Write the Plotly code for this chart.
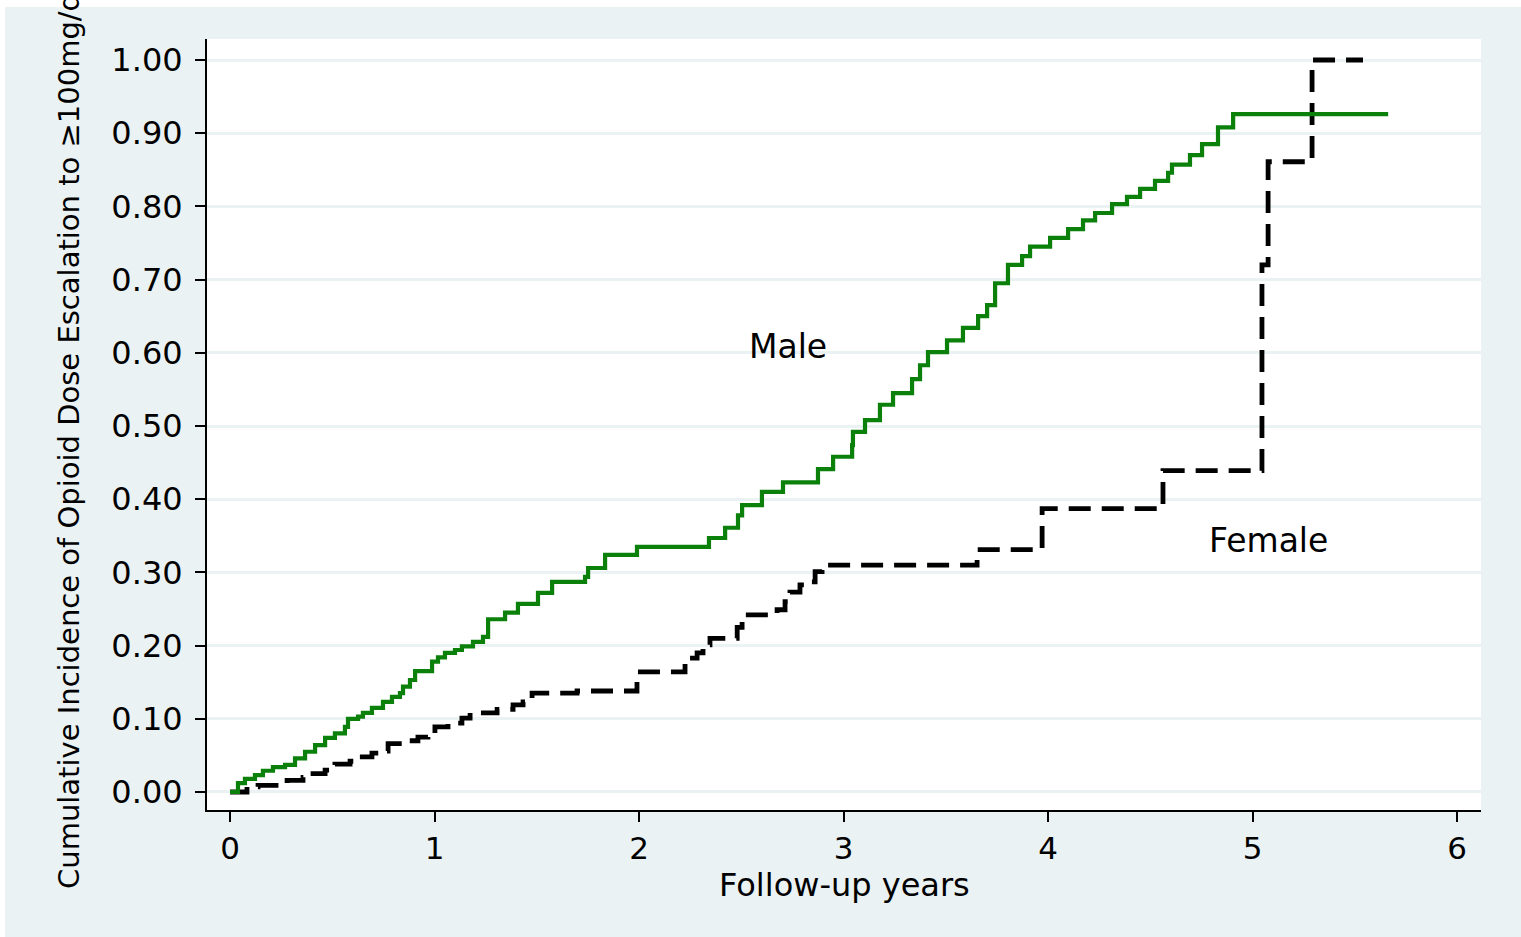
import plotly.graph_objects as go

# Cumulative incidence of opioid dose escalation (step functions), by sex
male_time = [0.000, 0.039, 0.073, 0.122, 0.161, 0.210, 0.269, 0.318, 0.367, 0.416,
             0.465, 0.513, 0.562, 0.577, 0.626, 0.650, 0.694, 0.748, 0.792, 0.831,
             0.846, 0.880, 0.905, 0.988, 1.017, 1.051, 1.100, 1.134, 1.188, 1.237,
             1.262, 1.345, 1.408, 1.506, 1.575, 1.736, 1.751, 1.834, 1.990, 2.342,
             2.421, 2.484, 2.504, 2.601, 2.704, 2.875, 2.949, 3.042, 3.046, 3.105,
             3.178, 3.242, 3.335, 3.374, 3.413, 3.506, 3.584, 3.658, 3.702, 3.741,
             3.804, 3.873, 3.912, 4.010, 4.098, 4.171, 4.230, 4.313, 4.386, 4.450,
             4.523, 4.587, 4.606, 4.694, 4.753, 4.831, 4.905, 5.663]
male_cuminc = [0.000, 0.012, 0.018, 0.023, 0.029, 0.034, 0.037, 0.046, 0.055, 0.064,
               0.074, 0.080, 0.089, 0.100, 0.103, 0.108, 0.115, 0.123, 0.130, 0.135,
               0.144, 0.153, 0.165, 0.178, 0.184, 0.190, 0.194, 0.199, 0.205, 0.212,
               0.236, 0.245, 0.257, 0.272, 0.287, 0.294, 0.306, 0.324, 0.335, 0.347,
               0.361, 0.378, 0.392, 0.410, 0.423, 0.441, 0.458, 0.474, 0.492, 0.508,
               0.529, 0.545, 0.564, 0.583, 0.601, 0.617, 0.634, 0.650, 0.665, 0.695,
               0.720, 0.732, 0.745, 0.757, 0.769, 0.781, 0.791, 0.803, 0.813, 0.824,
               0.835, 0.846, 0.857, 0.870, 0.885, 0.908, 0.926, 0.926]

female_time = [0.000, 0.083, 0.137, 0.279, 0.357, 0.406, 0.465, 0.513, 0.587, 0.626,
               0.694, 0.743, 0.773, 0.846, 0.919, 0.968, 1.002, 1.066, 1.134, 1.174,
               1.306, 1.384, 1.433, 1.477, 1.697, 1.990, 2.225, 2.284, 2.313, 2.347,
               2.480, 2.504, 2.675, 2.714, 2.738, 2.787, 2.836, 2.861, 2.895, 3.653,
               3.971, 4.562, 5.046, 5.076, 5.291, 5.540]
female_cuminc = [0.000, 0.007, 0.009, 0.016, 0.020, 0.025, 0.030, 0.038, 0.042, 0.048,
                 0.053, 0.056, 0.066, 0.070, 0.075, 0.080, 0.089, 0.094, 0.101, 0.108,
                 0.113, 0.119, 0.123, 0.135, 0.138, 0.164, 0.183, 0.190, 0.201, 0.210,
                 0.225, 0.242, 0.249, 0.260, 0.273, 0.283, 0.287, 0.301, 0.310, 0.331,
                 0.387, 0.439, 0.720, 0.861, 1.000, 1.000]

x_ticks = [0, 1, 2, 3, 4, 5, 6]
y_ticks = [0.0, 0.1, 0.2, 0.3, 0.4, 0.5, 0.6, 0.7, 0.8, 0.9, 1.0]
y_tick_text = ["0.00", "0.10", "0.20", "0.30", "0.40", "0.50",
               "0.60", "0.70", "0.80", "0.90", "1.00"]

series_labels = [("Male", 2.729, 0.609), ("Female", 5.076, 0.344)]
x_title = "Follow-up years"
y_title = "Cumulative Incidence of Opioid Dose Escalation to \u2265100mg/d"

FONT = "DejaVu Sans"
BG = "#EAF2F3"

W, H = 1521, 937
ML, MR, MT, MB = 207, 40, 39, 127
PW, PH = W - ML - MR, H - MT - MB


def px_x(p):
    return (p - ML) / PW


def px_y(p):
    return (H - MB - p) / PH


fig = go.Figure()

fig.add_trace(go.Scatter(
    x=female_time, y=female_cuminc, mode="lines",
    line=dict(color="black", width=4.8, dash="22px,11px", shape="hv"),
    showlegend=False, hoverinfo="skip",
))
fig.add_trace(go.Scatter(
    x=male_time, y=male_cuminc, mode="lines",
    line=dict(color="#0B800B", width=4.2, shape="hv"),
    showlegend=False, hoverinfo="skip",
))

for text, lx, ly in series_labels:
    fig.add_annotation(x=lx, y=ly, xref="x", yref="y", text=text, showarrow=False,
                       xanchor="center", yanchor="middle",
                       font=dict(family=FONT, size=33, color="black"))

fig.add_annotation(x=0.5, y=px_y(885), xref="paper", yref="paper", text=x_title,
                   showarrow=False, xanchor="center", yanchor="middle",
                   font=dict(family=FONT, size=32, color="black"))
fig.add_annotation(x=px_x(69), y=px_y(441), xref="paper", yref="paper", text=y_title,
                   showarrow=False, xanchor="center", yanchor="middle", textangle=-90,
                   font=dict(family=FONT, size=29, color="black"))

# thin white border along the top and left edges of the graph region
fig.add_shape(type="rect", xref="paper", yref="paper", layer="below",
              x0=px_x(-20), x1=px_x(W + 20), y0=px_y(7), y1=px_y(-20),
              fillcolor="white", line_width=0)
fig.add_shape(type="rect", xref="paper", yref="paper", layer="below",
              x0=px_x(-20), x1=px_x(5), y0=px_y(H + 20), y1=px_y(-20),
              fillcolor="white", line_width=0)

fig.update_xaxes(
    range=[-0.1125, 6.117], tickvals=x_ticks, ticktext=[str(t) for t in x_ticks],
    showgrid=False, zeroline=False, showline=True, linecolor="black", linewidth=2,
    ticks="outside", ticklen=10, tickwidth=2, tickcolor="black",
    ticklabelstandoff=0,
    tickfont=dict(family=FONT, size=31, color="black"),
)
fig.update_yaxes(
    range=[-0.0246, 1.0287], tickvals=y_ticks, ticktext=y_tick_text,
    showgrid=True, gridcolor=BG, gridwidth=2.5, zeroline=False,
    showline=True, linecolor="black", linewidth=2,
    ticks="outside", ticklen=10, tickwidth=2, tickcolor="black",
    ticklabelstandoff=6,
    tickfont=dict(family=FONT, size=32, color="black"),
)

fig.update_layout(
    width=W, height=H, autosize=False,
    margin=dict(l=ML, r=MR, t=MT, b=MB, pad=0),
    paper_bgcolor=BG, plot_bgcolor="white",
    showlegend=False,
)

fig.write_html("out.html")
